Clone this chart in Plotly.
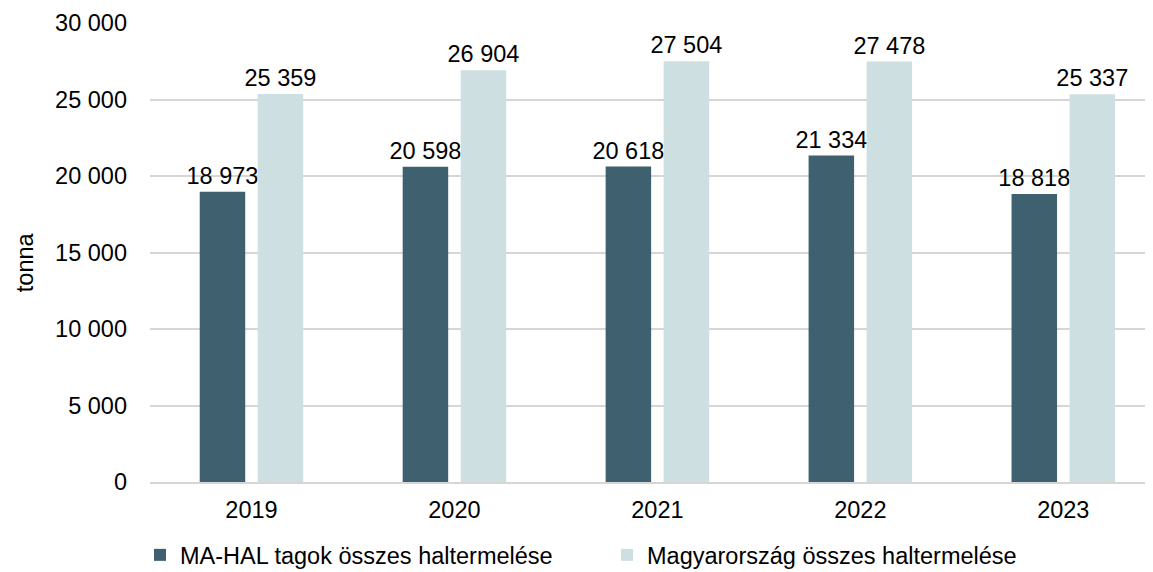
import plotly.graph_objects as go

years = ["2019", "2020", "2021", "2022", "2023"]
mahal = [18973, 20598, 20618, 21334, 18818]
hungary = [25359, 26904, 27504, 27478, 25337]
series_names = ["MA-HAL tagok összes haltermelése", "Magyarország összes haltermelése"]
y_ticks = [0, 5000, 10000, 15000, 20000, 25000, 30000]
y_title = "tonna"

def fmt(v):
    return f"{v:,}".replace(",", " ")

FONT = "Liberation Sans, Arial, sans-serif"
FS = 23.5
W, H = 1145, 564  # page body has an 8px margin

fig = go.Figure()
fig.add_trace(go.Bar(
    x=years, y=mahal, name=series_names[0],
    marker=dict(color="#3E606F", line=dict(width=0)),
    text=[fmt(v) for v in mahal], textposition="outside",
    textfont=dict(size=FS, color="#000000", family=FONT),
    constraintext="none", cliponaxis=False,
))
fig.add_trace(go.Bar(
    x=years, y=hungary, name=series_names[1],
    marker=dict(color="#CEDFE2", line=dict(width=0)),
    text=[fmt(v) for v in hungary], textposition="outside",
    textfont=dict(size=FS, color="#000000", family=FONT),
    constraintext="none", cliponaxis=False,
))

fig.add_annotation(
    text=y_title, xref="paper", yref="paper", x=-0.1246, y=0.479,
    textangle=-90, showarrow=False, font=dict(size=FS, family=FONT, color="#000000"),
    xanchor="center", yanchor="middle",
)

fig.update_layout(
    width=W, height=H,
    margin=dict(l=142, r=0, t=15, b=90, autoexpand=False),
    paper_bgcolor="white", plot_bgcolor="white",
    font=dict(family=FONT, size=FS, color="#000000"),
    barmode="group", bargap=0.4284, bargroupgap=0.2155,
    showlegend=True,
    legend=dict(orientation="h", xref="container", x=132 / W, xanchor="left",
                yref="container", y=0.03, yanchor="middle",
                font=dict(size=FS), entrywidth=422, itemwidth=30,
                traceorder="normal", bgcolor="rgba(0,0,0,0)"),
)
fig.update_yaxes(
    range=[0, 30000], tickvals=y_ticks, ticktext=[fmt(v) for v in y_ticks],
    showgrid=True, gridcolor="#D6D6D6", gridwidth=1.5, zeroline=False,
    showline=False, ticks="", ticklabelstandoff=22,
)
fig.update_xaxes(
    range=[-0.5, 4.442],
    showline=True, linecolor="#D6D6D6", linewidth=2, ticks="",
    ticklabelstandoff=6,
)

fig.write_html("out.html")
